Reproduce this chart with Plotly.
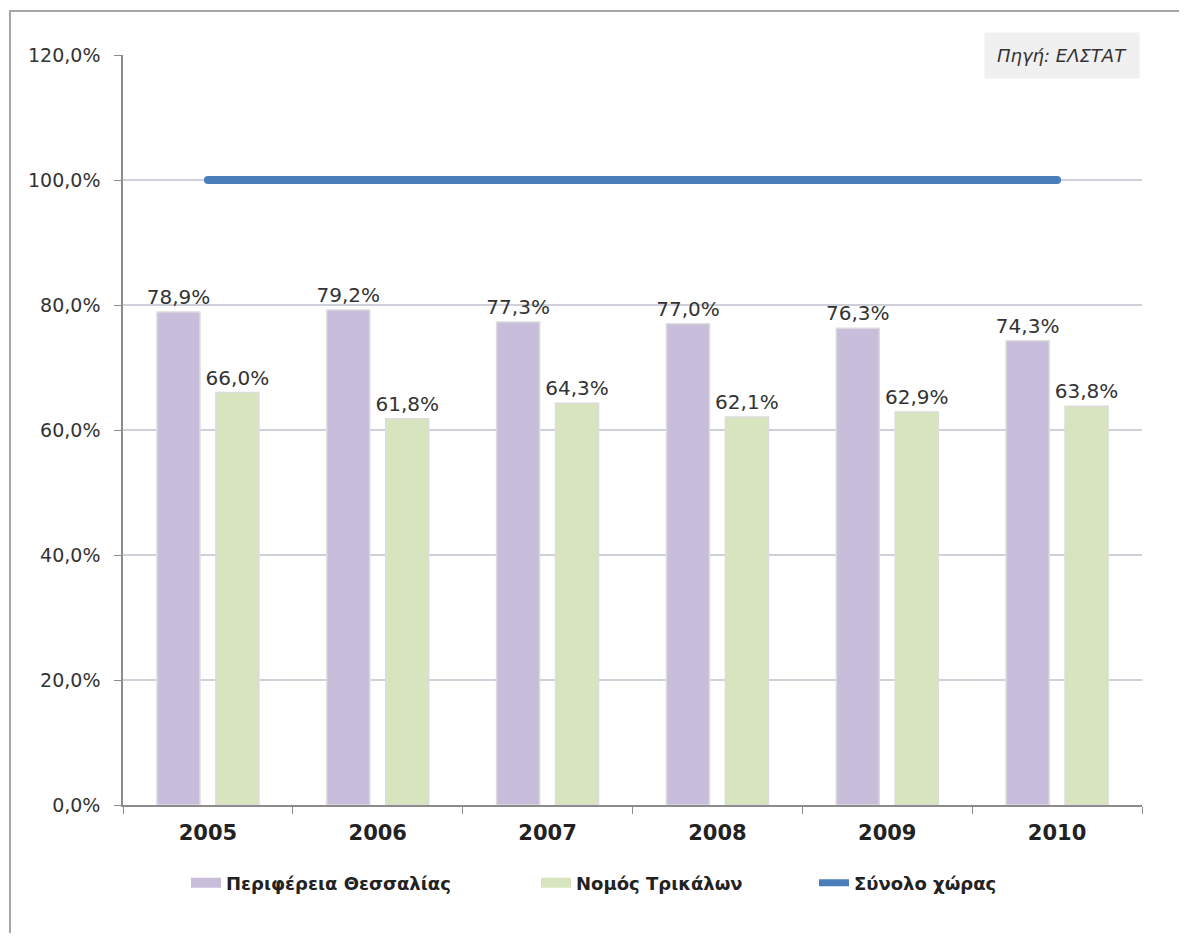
import plotly.graph_objects as go

years = ["2005", "2006", "2007", "2008", "2009", "2010"]
thessalia = [0.789, 0.792, 0.773, 0.770, 0.763, 0.743]
trikala = [0.660, 0.618, 0.643, 0.621, 0.629, 0.638]
country = [1.0, 1.0, 1.0, 1.0, 1.0, 1.0]
y_ticks = [0, 0.2, 0.4, 0.6, 0.8, 1.0, 1.2]
names = ["Περιφέρεια Θεσσαλίας", "Νομός Τρικάλων", "Σύνολο χώρας"]
colors = ["#c8bedb", "#d7e4bd", "#4a7ebb"]

FONT = "DejaVu Sans"
OFF = 8  # page body margin
W, H = 1187 - 2 * OFF, 941 - 2 * OFF
L, R, T, B = 123 - OFF, 1142 - OFF, 55 - OFF, 805 - OFF
PW, PH = R - L, B - T


def px_x(x):
    return (x - OFF - L) / PW


def px_y(y):
    return (B - (y - OFF)) / PH


fig = go.Figure()
for vals, nm, col in [(thessalia, names[0], colors[0]), (trikala, names[1], colors[1])]:
    fig.add_trace(go.Bar(
        x=years, y=vals, name=nm, showlegend=False,
        marker=dict(color=col, line=dict(color="#dcdcdc", width=1.5)),
        texttemplate="%{y:.1%}", textposition="outside", cliponaxis=False,
        constraintext="none",
        textfont=dict(family=FONT, size=20, color="#333333"),
    ))
fig.add_trace(go.Scatter(
    x=years, y=country, name=names[2], mode="lines+markers", showlegend=False,
    line=dict(color=colors[2], width=8),
    marker=dict(color=colors[2], size=8, line=dict(width=0)),
))

# legend entries, one legend each so their positions match the reference
leg_x = [186, 536, 814]
for i, (nm, col) in enumerate(zip(names, colors)):
    key = "legend" if i == 0 else f"legend{i+1}"
    fig.add_trace(go.Scatter(
        x=[None], y=[None], name=nm, mode="lines",
        line=dict(color=col, width=15 if i < 2 else 7),
        legend=key, showlegend=True,
    ))
    fig.update_layout({key: dict(
        x=px_x(leg_x[i]), xanchor="left", y=px_y(883), yanchor="middle",
        orientation="h", bgcolor="rgba(0,0,0,0)",
        font=dict(family=FONT, size=18, color="#222222", weight="bold"),
        itemwidth=30,
    )})

fig.update_layout(
    width=W, height=H,
    margin=dict(l=L, r=W - R, t=T, b=H - B, pad=0),
    paper_bgcolor="white", plot_bgcolor="white",
    separators=",.",
    barmode="group", bargap=0.306, bargroupgap=0.27,
    font=dict(family=FONT, size=17, color="#333333"),
    showlegend=True,
    yaxis=dict(range=[0, 1.2], tickvals=y_ticks, tickformat=".1%",
               showgrid=True, gridcolor="#cfd1da", gridwidth=1.5,
               showline=True, linecolor="#8c8c8c", linewidth=1.5,
               ticks="outside", ticklen=7, tickcolor="#8c8c8c",
               ticklabelstandoff=10,
               tickfont=dict(family=FONT, size=19, color="#333333"),
               zeroline=False, fixedrange=True),
    xaxis=dict(showline=True, linecolor="#8c8c8c", linewidth=1.5,
               ticks="outside", ticklen=7, tickcolor="#8c8c8c",
               tickson="boundaries", ticklabelstandoff=8,
               tickfont=dict(family=FONT, size=21, color="#222222", weight="bold"),
               fixedrange=True),
    shapes=[dict(type="rect", xref="paper", yref="paper",
                 x0=px_x(10), x1=px_x(1184),
                 y0=-0.3, y1=px_y(11),
                 line=dict(color="#a6a6a6", width=2), fillcolor="rgba(0,0,0,0)",
                 layer="below")],
    annotations=[dict(text="<i>Πηγή: ΕΛΣΤΑΤ</i>", xref="paper", yref="paper",
                      x=px_x(1062), y=px_y(55),
                      xanchor="center", yanchor="middle", showarrow=False,
                      bgcolor="#f0f0f0", borderpad=12,
                      font=dict(family=FONT, size=18, color="#333333"))],
)

fig.write_html("out.html")
